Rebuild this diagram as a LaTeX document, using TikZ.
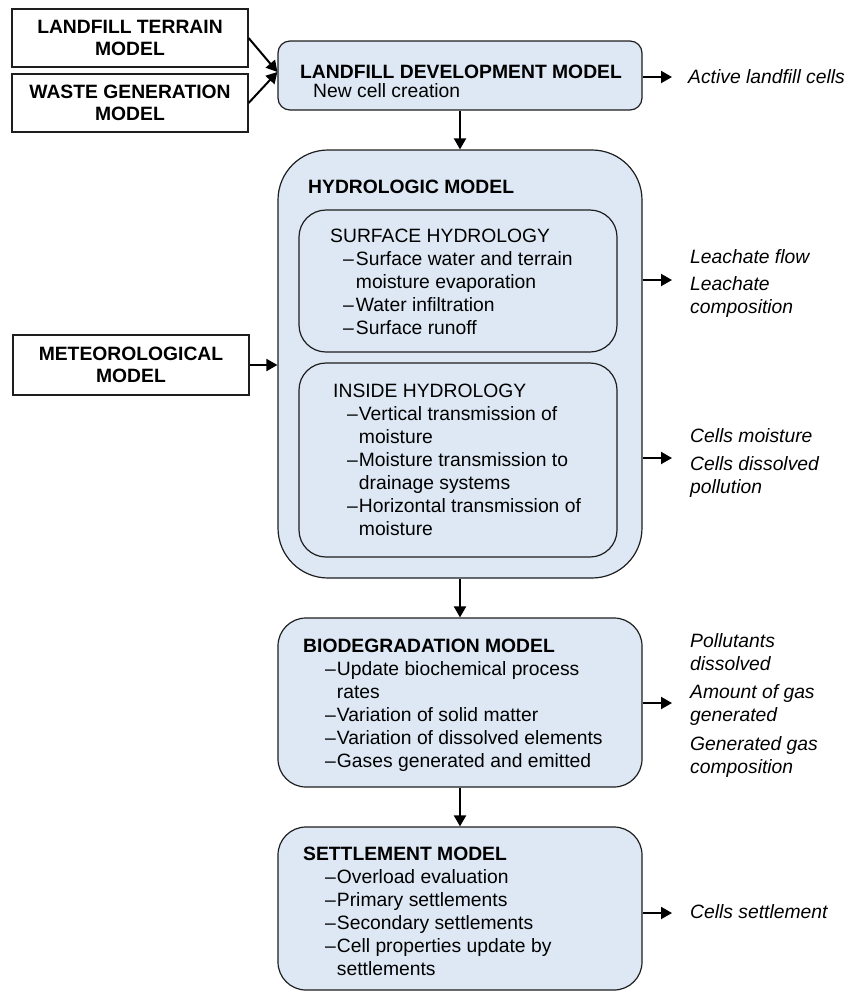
\documentclass[tikz,border=0pt]{standalone}
\usepackage{fontspec}
\setmainfont{Liberation Sans}
\usepackage{xcolor}
\usepackage{tikz}
\usetikzlibrary{arrows.meta, positioning}

\definecolor{modelblue}{RGB}{221,232,244}
\definecolor{edgegray}{RGB}{30,30,30}

\begin{document}
\begin{tikzpicture}[
        x=1pt, y=-1pt,
        every node/.style={font=\fontsize{19.3pt}{23pt}\selectfont},
        inputbox/.style={
            rectangle,
            draw=edgegray,
            line width=1.2pt,
            minimum width=236pt,
            minimum height=58pt,
            align=center,
            font=\fontsize{19.3pt}{22pt}\selectfont\bfseries
        },
        modelbox/.style={
            rectangle,
            draw=edgegray,
            fill=modelblue,
            line width=1.2pt,
            rounded corners=28pt,
            minimum width=364pt
        },
        subbox/.style={
            modelbox,
            rounded corners=27pt,
            minimum width=318pt
        },
        boxtext/.style={anchor=base west, inner sep=0pt},
        outtext/.style={boxtext, font=\fontsize{19.3pt}{23pt}\selectfont\itshape},
        flow/.style={line width=2pt, -{Triangle[length=11pt, width=12pt]}}
    ]

    \useasboundingbox (0,0) rectangle (858,994);

    % Input models
    \node[inputbox] (terrain) at (130,38) {LANDFILL TERRAIN\\MODEL};
    \node[inputbox] (waste) at (130,103) {WASTE GENERATION\\MODEL};
    \node[inputbox, minimum height=60pt] (meteo) at (131,365) {METEOROLOGICAL\\MODEL};

    % Model chain
    \node[modelbox, rounded corners=12pt, minimum height=69pt] (development) at (460,75.5) {};
    \node[modelbox, rounded corners=50pt, minimum height=428pt] (hydro) at (460,364) {};
    \node[subbox, minimum height=142pt] (surface) at (458,281) {};
    \node[subbox, minimum height=194pt] (inside) at (458,460) {};
    \node[modelbox, minimum height=169pt] (biodeg) at (460,702.5) {};
    \node[modelbox, minimum height=163pt] (settle) at (460,908.5) {};

    % Box texts
    \node[boxtext] (developmenttext) at (300,78) {\begin{tabular}[t]{@{}l@{}}
        \textbf{LANDFILL DEVELOPMENT MODEL}\\[-4pt]
        \hspace*{13pt}New cell creation
    \end{tabular}};
    \node[boxtext] (hydrotitle) at (308,193) {\textbf{HYDROLOGIC MODEL}};
    \node[boxtext] (surfacetext) at (330,242) {\begin{tabular}[t]{@{\hspace{13pt}}l@{\hspace{2pt}}l@{}}
        \multicolumn{2}{@{}l@{}}{SURFACE HYDROLOGY}\\
        \textendash & Surface water and terrain\\
                    & moisture evaporation\\
        \textendash & Water infiltration\\
        \textendash & Surface runoff
    \end{tabular}};
    \node[boxtext] (insidetext) at (333,397) {\begin{tabular}[t]{@{\hspace{14pt}}l@{\hspace{1pt}}l@{}}
        \multicolumn{2}{@{}l@{}}{INSIDE HYDROLOGY}\\
        \textendash & Vertical transmission of\\
                    & moisture\\
        \textendash & Moisture transmission to\\
                    & drainage systems\\
        \textendash & Horizontal transmission of\\
                    & moisture
    \end{tabular}};
    \node[boxtext] (biodegtext) at (303,652) {\begin{tabular}[t]{@{\hspace{22pt}}l@{\hspace{1pt}}l@{}}
        \multicolumn{2}{@{}l@{}}{\textbf{BIODEGRADATION MODEL}}\\
        \textendash & Update biochemical process\\
                    & rates\\
        \textendash & Variation of solid matter\\
        \textendash & Variation of dissolved elements\\
        \textendash & Gases generated and emitted
    \end{tabular}};
    \node[boxtext] (settletext) at (303,860) {\begin{tabular}[t]{@{\hspace{22pt}}l@{\hspace{1pt}}l@{}}
        \multicolumn{2}{@{}l@{}}{\textbf{SETTLEMENT MODEL}}\\
        \textendash & Overload evaluation\\
        \textendash & Primary settlements\\
        \textendash & Secondary settlements\\
        \textendash & Cell properties update by\\
                    & settlements
    \end{tabular}};

    % Outputs
    \node[outtext] (activecells) at (688,83) {Active landfill cells};
    \node[outtext] (leachate) at (690,263) {\begin{tabular}[t]{@{}l@{}}
        Leachate flow\\[4pt] Leachate\\ composition
    \end{tabular}};
    \node[outtext] (moisture) at (690,442) {\begin{tabular}[t]{@{}l@{}}
        Cells moisture\\[5pt] Cells dissolved\\ pollution
    \end{tabular}};
    \node[outtext] (pollutants) at (690,647) {\begin{tabular}[t]{@{}l@{}}
        Pollutants\\ dissolved\\[5pt] Amount of gas\\ generated\\[6pt] Generated gas\\ composition
    \end{tabular}};
    \node[outtext] (settlement) at (690,918) {Cells settlement};

    \coordinate (developmentout) at (672,77);
    \coordinate (leachateout) at (672,280);
    \coordinate (moistureout) at (672,458);
    \coordinate (biodegout) at (672,703);
    \coordinate (settleout) at (672,913);

    % Arrows
    \draw[flow] (terrain.east) -- ([yshift=3.5pt]development.west);
    \draw[flow] (waste.east) -- ([yshift=3.5pt]development.west);
    \draw[flow] (meteo.east) -- (meteo.east -| hydro.west);
    \draw[flow] (development.south) -- (hydro.north);
    \draw[flow] (hydro.south) -- (biodeg.north);
    \draw[flow] (biodeg.south) -- (settle.north);

    \draw[flow] (developmentout -| development.east) -- (developmentout);
    \draw[flow] (leachateout -| hydro.east) -- (leachateout);
    \draw[flow] (moistureout -| hydro.east) -- (moistureout);
    \draw[flow] (biodegout -| biodeg.east) -- (biodegout);
    \draw[flow] (settleout -| settle.east) -- (settleout);

\end{tikzpicture}
\end{document}
